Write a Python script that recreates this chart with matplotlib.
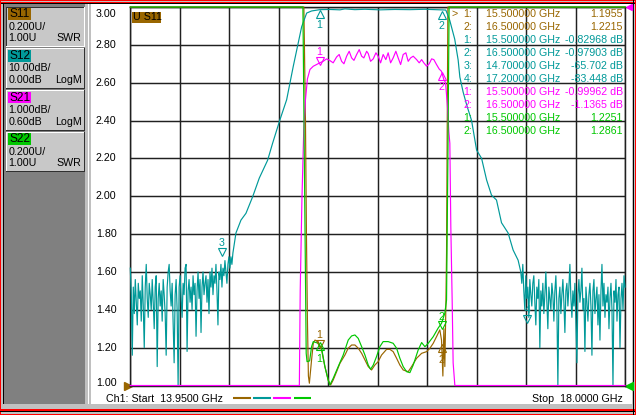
import numpy as np
import matplotlib
matplotlib.use('Agg')
import matplotlib.pyplot as plt
from matplotlib.patches import Rectangle
from matplotlib.transforms import offset_copy

plt.rcParams['font.family'] = ['Liberation Sans', 'DejaVu Sans']

# ---------------- data ----------------
F_START, F_STOP = 13.95, 18.0

# S12 (LogM, dB) - noisy lower stopband (sweep points 13.95 .. 14.79 GHz)
s12_lo_noise_db = [
    -69, -76, -92, -74, -81, -72, -78, -84, -73, -77,
    -75, -83, -71, -79, -90, -74, -68, -77, -82, -73,
    -76, -80, -72, -78, -85, -74, -71, -95, -77, -73,
    -79, -75, -83, -72, -76, -81, -92, -74, -70, -68,
    -75, -79, -73, -84, -94, -76, -72, -80, -100, -74,
    -71, -77, -82, -73, -76, -69, -68, -91, -75, -72,
    -78, -74, -80, -71, -76, -73, -87, -75, -70, -77,
    -72, -86, -74, -70, -76, -73, -71, -78, -72, -81,
    -70, -74, -69, -76, -71, -73, -68, -75, -84, -70,
    -72, -68, -74, -69, -71, -67, -70, -73, -68, -66,
    -69, -66, -68, -65]
s12_lo_noise_f = np.linspace(13.95, 14.79, len(s12_lo_noise_db))

# S12 skirts and passband
s12_f = [14.815, 14.856, 14.897, 14.952, 15.006, 15.074, 15.115, 15.173, 15.230,
         15.284, 15.353, 15.394, 15.434, 15.502, 15.584, 15.666, 15.707, 15.789,
         15.871, 15.993, 16.116, 16.239, 16.361, 16.484, 16.533, 16.565, 16.606,
         16.634, 16.648, 16.675, 16.705, 16.744, 16.785, 16.826, 16.867, 16.907,
         16.948, 16.989, 17.043, 17.084, 17.125]
s12_db = [-59.7, -56.3, -54.5, -50.1, -45.2, -40.5, -36.0, -30.0, -24.5,
          -15.7, -5.2, -1.6, -1.05, -0.7, -0.65, -0.75, -0.5, -0.7,
          -0.6, -0.75, -0.65, -0.7, -0.6, -0.75, -0.8, -3.5, -8.5,
          -14.0, -18.5, -22.5, -26.0, -30.0, -37.8, -40.0, -45.7, -49.7,
          -51.0, -57.0, -59.7, -64.2, -66.9]

# S12 noisy upper stopband (17.147 .. 18.0 GHz)
s12_hi_noise_db = [
    -70, -73, -68, -75, -80, -71, -77, -74, -82, -72,
    -76, -79, -73, -71, -78, -84, -74, -77, -72, -90,
    -75, -79, -73, -81, -76, -70, -78, -85, -74, -77,
    -80, -73, -76, -83, -75, -71, -79, -100, -77, -74,
    -81, -76, -72, -78, -86, -75, -73, -79, -74, -68,
    -77, -82, -75, -79, -73, -84, -94, -76, -72, -78,
    -75, -69, -80, -77, -91, -74, -78, -83, -76, -73,
    -79, -92, -75, -72, -81, -77, -74, -84, -76, -88,
    -75, -68, -79, -73, -82, -76, -78, -74, -85, -77,
    -73, -80, -100, -75, -78, -72, -83, -76, -74, -90,
    -77, -73, -80, -71, -74]
s12_hi_noise_f = np.linspace(17.147, 18.0, len(s12_hi_noise_db))

# S21 (LogM, dB)
s21_f = [13.95, 15.334, 15.341, 15.355, 15.370, 15.384, 15.400,
         15.421, 15.448, 15.475, 15.501, 15.529, 15.557, 15.584, 15.611, 15.639,
         15.660, 15.680, 15.699, 15.721, 15.742, 15.762, 15.781, 15.803, 15.824,
         15.844, 15.862, 15.885, 15.898, 15.917, 15.939, 15.961, 15.979, 15.999,
         16.020, 16.042, 16.061, 16.081, 16.102, 16.124, 16.143, 16.163, 16.184,
         16.206, 16.225, 16.245, 16.266, 16.294, 16.315, 16.335, 16.353, 16.376,
         16.397, 16.417, 16.435, 16.457, 16.479, 16.498, 16.517, 16.531, 16.547,
         16.558, 16.566, 16.574, 16.585, 16.593, 16.607, 18.0]
s21_db = [-40, -12, -6.9, -4.5, -2.65, -1.85, -1.3,
          -1.05, -0.965, -0.92, -0.875, -0.835, -0.77, -0.815, -0.875, -0.72,
          -0.655, -0.835, -0.9, -0.7, -0.57, -0.745, -0.81, -0.655, -0.525,
          -0.7, -0.745, -0.57, -0.63, -0.835, -0.77, -0.61, -0.7, -0.875,
          -0.655, -0.79, -0.61, -0.875, -0.745, -0.57, -0.745, -0.92, -0.655,
          -0.61, -0.835, -0.745, -0.7, -0.79, -0.875, -0.79, -0.875, -0.965,
          -0.9, -0.77, -0.79, -0.92, -1.04, -1.1, -1.32, -1.4, -2.05,
          -2.7, -3.0, -5.2, -7.15, -8.8, -12, -40]

# S11 (SWR)
s11_f = [13.95, 15.371, 15.384, 15.392, 15.400, 15.408, 15.416, 15.434, 15.448,
         15.462, 15.488, 15.516, 15.543, 15.570, 15.590, 15.611, 15.639, 15.666,
         15.707, 15.734, 15.762, 15.789, 15.816, 15.844, 15.871, 15.898, 15.925,
         15.952, 15.979, 16.007, 16.048, 16.075, 16.102, 16.130, 16.157, 16.184,
         16.225, 16.253, 16.294, 16.335, 16.376, 16.403, 16.430, 16.457, 16.484,
         16.498, 16.509, 16.517, 16.525, 16.533, 16.539, 16.544, 16.550, 18.0]
s11_swr = [30.0, 3.2, 2.4, 1.8, 1.35, 1.05, 1.012, 1.135, 1.223,
           1.240, 1.232, 1.188, 1.100, 1.029, 1.003, 1.029, 1.073, 1.117,
           1.161, 1.197, 1.214, 1.214, 1.197, 1.170, 1.135, 1.100, 1.082,
           1.108, 1.126, 1.161, 1.191, 1.191, 1.179, 1.144, 1.108, 1.082,
           1.073, 1.100, 1.144, 1.170, 1.179, 1.197, 1.223, 1.258, 1.294,
           1.240, 1.05, 1.30, 1.10, 1.40, 1.7, 2.3, 3.2, 30.0]

# S22 (SWR)
s22_f = [13.95, 15.363, 15.390, 15.397, 15.418, 15.434, 15.448, 15.488, 15.516,
         15.543, 15.570, 15.584, 15.611, 15.652, 15.693, 15.734, 15.762, 15.789,
         15.816, 15.844, 15.871, 15.898, 15.917, 15.939, 15.966, 15.993, 16.020,
         16.061, 16.102, 16.130, 16.157, 16.184, 16.212, 16.239, 16.266, 16.307,
         16.335, 16.362, 16.389, 16.430, 16.470, 16.498, 16.525, 16.539, 16.550,
         16.560, 18.0]
s22_swr = [30.0, 3.2, 1.17, 1.126, 1.13, 1.205, 1.232, 1.223, 1.197,
           1.100, 1.029, 1.003, 1.038, 1.100, 1.161, 1.240, 1.262, 1.267,
           1.249, 1.205, 1.161, 1.108, 1.086, 1.108, 1.153, 1.205, 1.232,
           1.232, 1.223, 1.197, 1.144, 1.100, 1.073, 1.068, 1.108, 1.188,
           1.227, 1.205, 1.223, 1.258, 1.303, 1.329, 1.382, 1.452, 2.2,
           3.2, 30.0]

# markers
mk_f = [15.5, 16.5]
s11_mk = [1.1955, 1.2215]
s12_mk_f = [15.5, 16.5, 14.7, 17.2]
s12_mk = [-0.82968, -0.97903, -65.702, -83.448]
s21_mk = [-0.99962, -1.1365]
s22_mk = [1.2251, 1.2861]

# ---------------- styles ----------------
W, H = 636, 415
C11, C12, C21, C22 = '#996600', '#009999', '#ff00ff', '#00c800'
FS = 7.7

def y_s12(db):
    return 3.0 + np.asarray(db, float) / 10.0 * 0.2

def y_s21(db):
    return 3.0 + (np.asarray(db, float) - 0.6) * 0.2

fig = plt.figure(figsize=(W / 100, H / 100), dpi=100)
fig.patch.set_facecolor('#c0c0c0')
bg = fig.add_axes([0, 0, 1, 1], zorder=0)
bg.set_xlim(0, W); bg.set_ylim(H, 0); bg.axis('off')

def rect(x0, y0, x1, y1, c, z=1):
    bg.add_patch(Rectangle((x0, y0), x1 - x0, y1 - y0, facecolor=c,
                           edgecolor='none', zorder=z))

def T(x, y, s, **kw):
    kw.setdefault('fontsize', FS)
    kw.setdefault('va', 'center')
    fig.text(x / W, 1 - y / H, s, **kw)

# window frame
rect(91, 4.2, 631.5, 403.5, 'white')
rect(3, 4, 84.5, 404, '#808080')
rect(88, 4, 89, 404, 'white')
rect(0, 0, W, 1.3, '#ff0000'); rect(0, 2.2, W, 3.2, '#ff0000'); rect(0, 3.2, W, 4.2, 'black')
rect(0, 0, 1.3, H, '#ff0000'); rect(3, 4, 4.2, 404, 'black')
rect(0, 409.3, W, 410.8, '#ff0000'); rect(0, 410.8, W, 412.2, 'black'); rect(0, 413.5, W, H, '#ff0000')
rect(632.6, 0, 634, H, 'black'); rect(634.6, 0, W, H, '#ff0000')

# trace buttons
buttons = [
    ('S11', C11, '0.200U/', '1.00U', 'SWR', 6.7, 47.3),
    ('S12', C12, '10.00dB/', '0.00dB', 'LogM', 48.3, 89.0),
    ('S21', C21, '1.000dB/', '0.60dB', 'LogM', 90.0, 130.7),
    ('S22', C22, '0.200U/', '1.00U', 'SWR', 131.7, 172.3),
]
for i, (nm, col, l1, l2, fmt, y0, y1) in enumerate(buttons):
    rect(6, y0, 85, y1, '#c8c8c8', 2)
    if i == 0:
        rect(6, y0, 85, y0 + 1, '#303030', 3); rect(6, y0, 7.3, y1, '#303030', 3)
        rect(6, y1 - 1, 85, y1, 'white', 3); rect(84, y0, 85, y1, 'white', 3)
    else:
        rect(6, y0, 85, y0 + 1, 'white', 3); rect(6, y0, 7, y1, 'white', 3)
        rect(6, y1 - 1.2, 85, y1, '#303030', 3); rect(83.8, y0, 85, y1, '#303030', 3)
    rect(8, y0 + 1.6, 30.7, y0 + 13.3, col, 4)
    T(9, y0 + 7.6, nm, fontsize=8.6)
    T(8.5, y0 + 20.0, l1)
    T(8.5, y0 + 31.6, l2)
    T(81.7, y0 + 31.6, fmt, ha='right')

# data axes
L, R, TOP, BOT = 130.3, 625.0, 7.0, 385.5
ax = fig.add_axes([L / W, (H - BOT) / H, (R - L) / W, (BOT - TOP) / H], zorder=2)
ax.patch.set_alpha(0)
ax.set_xlim(F_START, F_STOP)
ax.set_ylim(1.0, 3.0)
ax.set_xticks(np.linspace(F_START, F_STOP, 11))
ax.set_yticks(np.linspace(1.0, 3.0, 11))
ax.tick_params(length=0, labelbottom=False, labelleft=False)
ax.grid(True, color='#202020', lw=1.05)
ax.set_axisbelow(True)
for s in ax.spines.values():
    s.set_color('#202020'); s.set_linewidth(1.05)

def clip(y):
    return np.clip(np.asarray(y, float), 1.0, 3.0)

LW = 0.85
s12_all_f = np.concatenate([s12_lo_noise_f, s12_f, s12_hi_noise_f])
s12_all_db = np.concatenate([s12_lo_noise_db, s12_db, s12_hi_noise_db])
ax.plot(s11_f, clip(s11_swr), color=C11, lw=LW, clip_on=False, zorder=3)
ax.plot(s12_all_f, clip(y_s12(s12_all_db)), color=C12, lw=LW, clip_on=False, zorder=4)
ax.plot(s21_f, clip(y_s21(s21_db)), color=C21, lw=LW, clip_on=False, zorder=5)
ax.plot(s22_f, clip(s22_swr), color=C22, lw=LW, clip_on=False, zorder=6)

# markers on traces
def mark(f, y, col, up, label, tri_off, lab_off):
    tt = offset_copy(ax.transData, fig=fig, x=0, y=tri_off, units='dots')
    tl = offset_copy(ax.transData, fig=fig, x=0, y=lab_off, units='dots')
    ax.plot([f], [y], marker='^' if up else 'v', ms=5.2, mfc='none', mec=col,
            mew=0.8, transform=tt, clip_on=False, zorder=8)
    ax.text(f, y, label, color=col, fontsize=FS, ha='center', va='center',
            transform=tl, zorder=8)

s21_on = np.interp(mk_f, s21_f, s21_db)
for k, (f, v) in enumerate(zip(s12_mk_f, s12_mk)):
    if k < 2:
        mark(f, y_s12(v), C12, True, str(k + 1), -4, -15)
    else:
        mark(f, y_s12(v), C12, False, str(k + 1), 4, 13)
mark(mk_f[0], y_s21(s21_on[0]), C21, False, '1', 2, 11)
mark(mk_f[1], y_s21(s21_on[1]), C21, True, '2', -4, -15)
mark(mk_f[0], s11_mk[0], C11, False, '1', 5, 14)
mark(mk_f[1], s11_mk[1], C11, True, '2', -4, -16)
mark(mk_f[0], s22_mk[0], C22, True, '1', -3, -16)
mark(mk_f[1], s22_mk[1], C22, False, '2', 6, 14)

# y tick labels (S11 scale)
for v in np.linspace(1.0, 3.0, 11):
    yp = BOT - (v - 1.0) / 2.0 * (BOT - TOP)
    if v > 2.99:
        yp = 14.0
    elif v < 1.01:
        yp = 382.7
    T(116.5, yp, f'{v:.2f}', ha='right')

# reference level triangles
bg.plot([127.5], [385.5], marker='>', ms=5.5, color=C11, zorder=5, clip_on=False)
bg.plot([628.6], [385.5], marker='<', ms=5.5, color=C22, zorder=5, clip_on=False)
bg.plot([629.2], [6.6], marker='<', ms=4.5, color=C21, zorder=5, clip_on=False)

# active trace tag
rect(131.7, 11.7, 160.7, 22.7, C11, 6)
T(133.2, 17.4, 'U S11')

# marker readout
rows = []
for k, (f, v) in enumerate(zip(mk_f, s11_mk)):
    rows.append((C11, k + 1, f, f'{v:.4f}'))
for k, (f, v) in enumerate(zip(s12_mk_f, s12_mk)):
    rows.append((C12, k + 1, f, f'{v:.5g} dB'))
for k, (f, v) in enumerate(zip(mk_f, s21_mk)):
    rows.append((C21, k + 1, f, f'{v:.5g} dB'))
for k, (f, v) in enumerate(zip(mk_f, s22_mk)):
    rows.append((C22, k + 1, f, f'{v:.4f}'))
for i, (col, n, f, val) in enumerate(rows):
    yy = 14.0 + 13.0 * i
    if i == 0:
        T(454.5, yy, '>', color=col, ha='center')
    T(472.5, yy, f'{n}:', color=col, ha='right')
    T(486.5, yy, f'{f:.6f} GHz', color=col)
    T(622.8, yy, val, color=col, ha='right')

# bottom status line
T(105.5, 399.2, f'Ch1: Start  {F_START:.4f} GHz')
T(622.6, 399.2, f'Stop  {F_STOP:.4f} GHz', ha='right')
for x0, col in zip([233, 253, 273.3, 293.5], [C11, C12, C21, C22]):
    bg.plot([x0, x0 + 17.5], [397.6, 397.6], color=col, lw=1.5, solid_capstyle='butt', zorder=5)

fig.savefig('out.png', dpi=100, facecolor=fig.get_facecolor())
